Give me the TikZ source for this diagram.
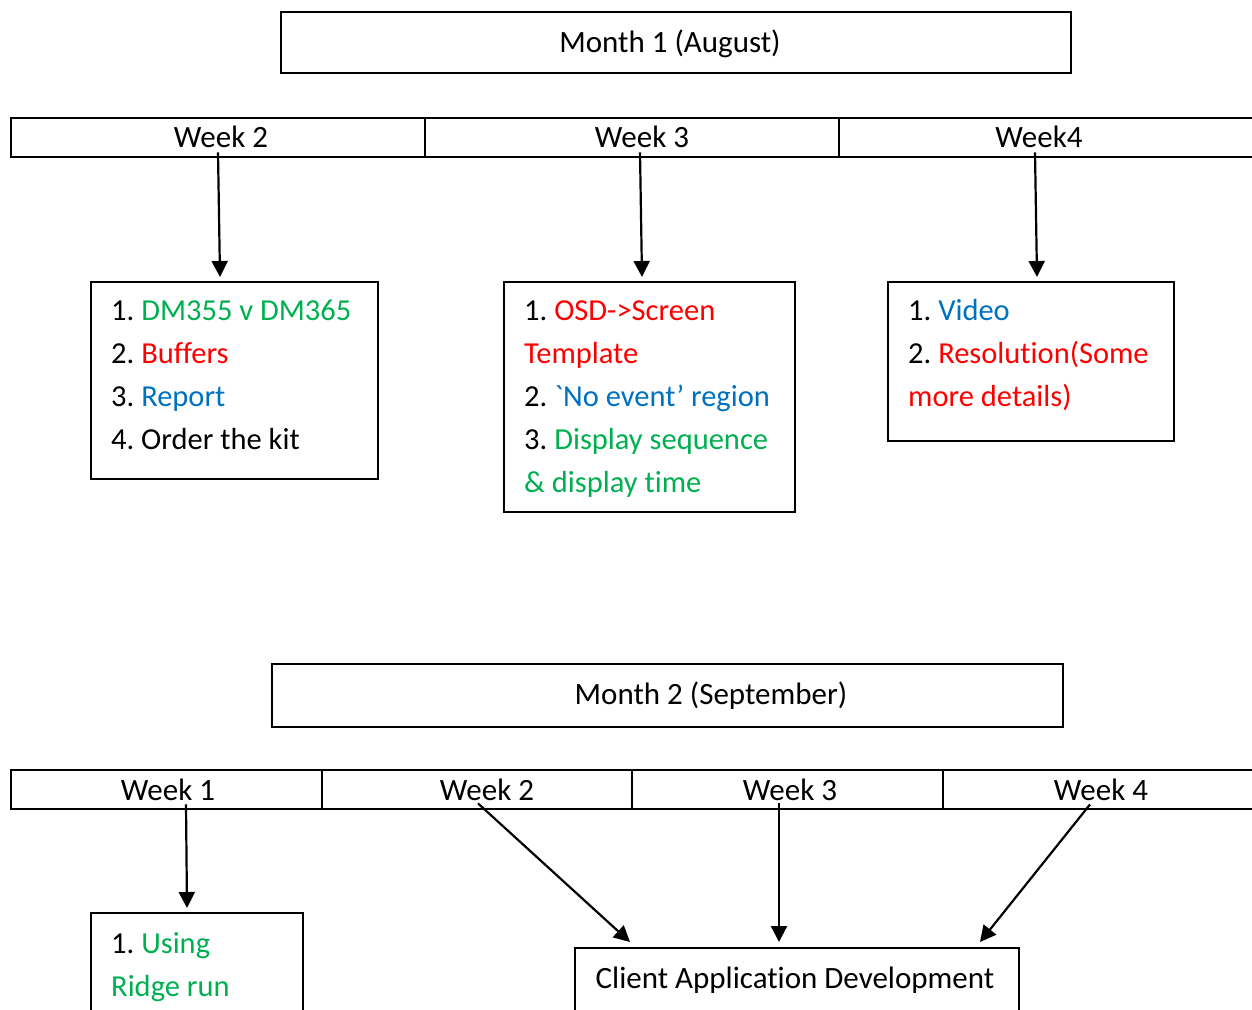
\documentclass[tikz,border=0pt]{standalone}
\usepackage{fontspec}
\setmainfont{Carlito}[Ligatures={NoCommon}]
\usetikzlibrary{arrows.meta}
\definecolor{itemgreen}{HTML}{00B050}
\definecolor{itemred}{HTML}{FF0000}
\definecolor{itemblue}{HTML}{0070C0}
\frenchspacing
\begin{document}
\begin{tikzpicture}[x=1pt,y=-1pt,
  frame/.style={draw, line width=2.3pt, inner sep=0pt, anchor=north west},
  caption/.style={inner sep=0pt, anchor=base, font=\fontsize{31}{37}\selectfont},
  item/.style={inner sep=0pt, anchor=base west, font=\fontsize{30.5}{43}\selectfont},
  arr/.style={-{Triangle[length=16pt,width=16pt]}, line width=2.2pt},
]
\useasboundingbox (0,0) rectangle (1252,1009);
\clip (0,0) rectangle (1252,1009);

% ---------- Month 1 ----------
\node[frame, minimum width=790, minimum height=61] (m1box) at (280,11) {};
\node[caption] (m1) at (670,52) {Month 1 (August)};

\node[frame, minimum width=414, minimum height=39] (c12) at (10,117) {};
\node[frame, minimum width=414, minimum height=39] (c13) at (424,117) {};
\node[frame, minimum width=430, minimum height=39] (c14) at (838,117) {};
\node[caption] (w12) at (221,147) {Week 2};
\node[caption] (w13) at (642,147) {Week 3};
\node[caption] (w14) at (1039,147) {Week4};

\node[frame, minimum width=287, minimum height=197] (b1) at (90,281) {};
\node[frame, minimum width=291, minimum height=230] (b2) at (503,281) {};
\node[frame, minimum width=286, minimum height=159] (b3) at (887,281) {};

\draw[arr] ([xshift=-3pt,yshift=-5pt]w12.south) -- ([xshift=130pt,yshift=4pt]b1.north west);
\draw[arr] ([xshift=-2pt,yshift=-5pt]w13.south) -- ([xshift=139pt,yshift=4pt]b2.north west);
\draw[arr] ([xshift=-4pt,yshift=-5pt]w14.south) -- ([xshift=150pt,yshift=4pt]b3.north west);

\node[item] (b1a) at (111,320) {1. \textcolor{itemgreen}{DM355 v DM365}};
\node[item] (b1b) at (111,363) {2. \textcolor{itemred}{Buffers}};
\node[item] (b1c) at (111,406) {3. \textcolor{itemblue}{Report}};
\node[item] (b1d) at (111,449) {4. Order the kit};

\node[item] (b2a) at (524,320) {1. \textcolor{itemred}{OSD->Screen}};
\node[item] (b2b) at (524,363) {\textcolor{itemred}{Template}};
\node[item] (b2c) at (524,406) {2. \textcolor{itemblue}{\textasciigrave No event’ region}};
\node[item] (b2d) at (524,449) {3. \textcolor{itemgreen}{Display sequence}};
\node[item] (b2e) at (524,492) {\textcolor{itemgreen}{\& display time}};

\node[item] (b3a) at (908,320) {1. \textcolor{itemblue}{Video}};
\node[item] (b3b) at (908,363) {2. \textcolor{itemred}{Resolution(Some}};
\node[item] (b3c) at (908,406) {\textcolor{itemred}{more details)}};

% ---------- Month 2 ----------
\node[frame, minimum width=791, minimum height=63] (m2box) at (271,663) {};
\node[caption] (m2) at (711,704) {Month 2 (September)};

\node[frame, minimum width=311, minimum height=39] (c21) at (10,769) {};
\node[frame, minimum width=310, minimum height=39] (c22) at (321,769) {};
\node[frame, minimum width=311, minimum height=39] (c23) at (631,769) {};
\node[frame, minimum width=330, minimum height=39] (c24) at (942,769) {};
\node[caption] (w21) at (168,800) {Week 1};
\node[caption] (w22) at (487,800) {Week 2};
\node[caption] (w23) at (790,800) {Week 3};
\node[caption] (w24) at (1101,800) {Week 4};

\node[frame, minimum width=212, minimum height=130] (u1) at (90,912) {};
\node[frame, minimum width=444, minimum height=100] (cad) at (574,947) {};

\draw[arr] ([xshift=18pt,yshift=-4pt]w21.south) -- ([xshift=97pt,yshift=4pt]u1.north west);
\draw[arr] ([xshift=-9pt,yshift=-3pt]w22.south) -- ([xshift=56pt,yshift=5pt]cad.north west);
\draw[arr] ([xshift=-11pt,yshift=-3pt]w23.south) -- ([xshift=205pt,yshift=5pt]cad.north west);
\draw[arr] ([xshift=-11pt,yshift=-4pt]w24.south) -- ([xshift=406pt,yshift=5pt]cad.north west);

\node[item] (u1a) at (111,953) {1. \textcolor{itemgreen}{Using}};
\node[item] (u1b) at (111,996) {\textcolor{itemgreen}{Ridge run}};
\node[caption] (cadt) at (795,988) {Client Application Development};
\end{tikzpicture}
\end{document}
